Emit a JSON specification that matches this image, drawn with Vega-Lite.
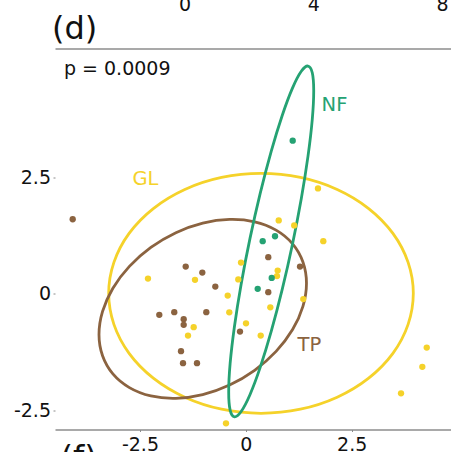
{
  "$schema": "https://vega.github.io/schema/vega-lite/v6.json",
  "width": 396,
  "height": 381,
  "autosize": {"type": "none"},
  "padding": {"left": 55, "top": 48.5, "right": 0, "bottom": 22.5},
  "background": "white",
  "config": {
    "view": {"stroke": null},
    "axis": {"grid": false, "labelFont": "DejaVu Sans", "labelFontSize": 19, "labelColor": "#111111", "title": null},
    "text": {"font": "DejaVu Sans"}
  },
  "datasets": {
    "pts": [
      {"group": "TP", "PC1": -4.088, "PC2": 1.598},
      {"group": "TP", "PC1": -1.419, "PC2": 0.584},
      {"group": "TP", "PC1": -1.027, "PC2": 0.456},
      {"group": "TP", "PC1": -0.720, "PC2": 0.156},
      {"group": "TP", "PC1": -2.043, "PC2": -0.449},
      {"group": "TP", "PC1": -1.689, "PC2": -0.392},
      {"group": "TP", "PC1": -1.467, "PC2": -0.541},
      {"group": "TP", "PC1": -1.467, "PC2": -0.663},
      {"group": "TP", "PC1": -0.933, "PC2": -0.392},
      {"group": "TP", "PC1": -0.137, "PC2": -0.807},
      {"group": "TP", "PC1": -1.530, "PC2": -1.226},
      {"group": "TP", "PC1": -1.483, "PC2": -1.483},
      {"group": "TP", "PC1": -1.153, "PC2": -1.483},
      {"group": "TP", "PC1": 0.531, "PC2": 0.785},
      {"group": "TP", "PC1": 1.280, "PC2": 0.584},
      {"group": "TP", "PC1": 0.531, "PC2": 0.036},
      {"group": "GL", "PC1": -2.310, "PC2": 0.327},
      {"group": "GL", "PC1": -1.200, "PC2": 0.300},
      {"group": "GL", "PC1": -0.113, "PC2": 0.670},
      {"group": "GL", "PC1": -0.177, "PC2": 0.310},
      {"group": "GL", "PC1": -0.427, "PC2": -0.036},
      {"group": "GL", "PC1": -0.390, "PC2": -0.396},
      {"group": "GL", "PC1": 0.005, "PC2": -0.631},
      {"group": "GL", "PC1": -1.231, "PC2": -0.712},
      {"group": "GL", "PC1": -1.365, "PC2": -0.892},
      {"group": "GL", "PC1": 1.705, "PC2": 2.257},
      {"group": "GL", "PC1": 0.777, "PC2": 1.573},
      {"group": "GL", "PC1": 1.143, "PC2": 1.466},
      {"group": "GL", "PC1": 1.830, "PC2": 1.128},
      {"group": "GL", "PC1": 0.753, "PC2": 0.499},
      {"group": "GL", "PC1": 0.737, "PC2": 0.381},
      {"group": "GL", "PC1": 1.358, "PC2": -0.111},
      {"group": "GL", "PC1": 0.579, "PC2": -0.289},
      {"group": "GL", "PC1": 0.352, "PC2": -0.892},
      {"group": "GL", "PC1": 4.273, "PC2": -1.149},
      {"group": "GL", "PC1": 4.169, "PC2": -1.562},
      {"group": "GL", "PC1": 3.666, "PC2": -2.129},
      {"group": "GL", "PC1": -0.468, "PC2": -2.771},
      {"group": "NF", "PC1": 1.108, "PC2": 3.280},
      {"group": "NF", "PC1": 0.399, "PC2": 1.128},
      {"group": "NF", "PC1": 0.690, "PC2": 1.234},
      {"group": "NF", "PC1": 0.612, "PC2": 0.342},
      {"group": "NF", "PC1": 0.281, "PC2": 0.107}
    ],
    "ell": [
      {"group": "GL", "i": 0, "PC1": 3.956, "PC2": 0.011},
      {"group": "GL", "i": 1, "PC1": 3.833, "PC2": 0.675},
      {"group": "GL", "i": 2, "PC1": 3.474, "PC2": 1.295},
      {"group": "GL", "i": 3, "PC1": 2.902, "PC2": 1.826},
      {"group": "GL", "i": 4, "PC1": 2.158, "PC2": 2.234},
      {"group": "GL", "i": 5, "PC1": 1.290, "PC2": 2.491},
      {"group": "GL", "i": 6, "PC1": 0.359, "PC2": 2.578},
      {"group": "GL", "i": 7, "PC1": -0.572, "PC2": 2.491},
      {"group": "GL", "i": 8, "PC1": -1.440, "PC2": 2.234},
      {"group": "GL", "i": 9, "PC1": -2.184, "PC2": 1.826},
      {"group": "GL", "i": 10, "PC1": -2.756, "PC2": 1.295},
      {"group": "GL", "i": 11, "PC1": -3.115, "PC2": 0.675},
      {"group": "GL", "i": 12, "PC1": -3.238, "PC2": 0.011},
      {"group": "GL", "i": 13, "PC1": -3.115, "PC2": -0.653},
      {"group": "GL", "i": 14, "PC1": -2.756, "PC2": -1.273},
      {"group": "GL", "i": 15, "PC1": -2.184, "PC2": -1.804},
      {"group": "GL", "i": 16, "PC1": -1.440, "PC2": -2.212},
      {"group": "GL", "i": 17, "PC1": -0.572, "PC2": -2.469},
      {"group": "GL", "i": 18, "PC1": 0.359, "PC2": -2.556},
      {"group": "GL", "i": 19, "PC1": 1.290, "PC2": -2.469},
      {"group": "GL", "i": 20, "PC1": 2.158, "PC2": -2.212},
      {"group": "GL", "i": 21, "PC1": 2.902, "PC2": -1.804},
      {"group": "GL", "i": 22, "PC1": 3.474, "PC2": -1.273},
      {"group": "GL", "i": 23, "PC1": 3.833, "PC2": -0.653},
      {"group": "TP", "i": 0, "PC1": 1.433, "PC2": 0.228},
      {"group": "TP", "i": 1, "PC1": 1.349, "PC2": 0.684},
      {"group": "TP", "i": 2, "PC1": 1.105, "PC2": 1.072},
      {"group": "TP", "i": 3, "PC1": 0.715, "PC2": 1.365},
      {"group": "TP", "i": 4, "PC1": 0.208, "PC2": 1.543},
      {"group": "TP", "i": 5, "PC1": -0.383, "PC2": 1.593},
      {"group": "TP", "i": 6, "PC1": -1.017, "PC2": 1.514},
      {"group": "TP", "i": 7, "PC1": -1.651, "PC2": 1.309},
      {"group": "TP", "i": 8, "PC1": -2.242, "PC2": 0.994},
      {"group": "TP", "i": 9, "PC1": -2.749, "PC2": 0.589},
      {"group": "TP", "i": 10, "PC1": -3.139, "PC2": 0.122},
      {"group": "TP", "i": 11, "PC1": -3.383, "PC2": -0.376},
      {"group": "TP", "i": 12, "PC1": -3.467, "PC2": -0.870},
      {"group": "TP", "i": 13, "PC1": -3.383, "PC2": -1.326},
      {"group": "TP", "i": 14, "PC1": -3.139, "PC2": -1.714},
      {"group": "TP", "i": 15, "PC1": -2.749, "PC2": -2.007},
      {"group": "TP", "i": 16, "PC1": -2.242, "PC2": -2.185},
      {"group": "TP", "i": 17, "PC1": -1.651, "PC2": -2.235},
      {"group": "TP", "i": 18, "PC1": -1.017, "PC2": -2.156},
      {"group": "TP", "i": 19, "PC1": -0.383, "PC2": -1.951},
      {"group": "TP", "i": 20, "PC1": 0.208, "PC2": -1.636},
      {"group": "TP", "i": 21, "PC1": 0.715, "PC2": -1.231},
      {"group": "TP", "i": 22, "PC1": 1.105, "PC2": -0.764},
      {"group": "TP", "i": 23, "PC1": 1.349, "PC2": -0.266},
      {"group": "NF", "i": 0, "PC1": 1.604, "PC2": 4.345},
      {"group": "NF", "i": 1, "PC1": 1.570, "PC2": 4.734},
      {"group": "NF", "i": 2, "PC1": 1.469, "PC2": 4.877},
      {"group": "NF", "i": 3, "PC1": 1.310, "PC2": 4.764},
      {"group": "NF", "i": 4, "PC1": 1.102, "PC2": 4.404},
      {"group": "NF", "i": 5, "PC1": 0.860, "PC2": 3.819},
      {"group": "NF", "i": 6, "PC1": 0.600, "PC2": 3.051},
      {"group": "NF", "i": 7, "PC1": 0.340, "PC2": 2.151},
      {"group": "NF", "i": 8, "PC1": 0.098, "PC2": 1.182},
      {"group": "NF", "i": 9, "PC1": -0.110, "PC2": 0.208},
      {"group": "NF", "i": 10, "PC1": -0.269, "PC2": -0.703},
      {"group": "NF", "i": 11, "PC1": -0.370, "PC2": -1.490},
      {"group": "NF", "i": 12, "PC1": -0.404, "PC2": -2.099},
      {"group": "NF", "i": 13, "PC1": -0.370, "PC2": -2.488},
      {"group": "NF", "i": 14, "PC1": -0.269, "PC2": -2.631},
      {"group": "NF", "i": 15, "PC1": -0.110, "PC2": -2.518},
      {"group": "NF", "i": 16, "PC1": 0.098, "PC2": -2.158},
      {"group": "NF", "i": 17, "PC1": 0.340, "PC2": -1.573},
      {"group": "NF", "i": 18, "PC1": 0.600, "PC2": -0.805},
      {"group": "NF", "i": 19, "PC1": 0.860, "PC2": 0.095},
      {"group": "NF", "i": 20, "PC1": 1.102, "PC2": 1.064},
      {"group": "NF", "i": 21, "PC1": 1.310, "PC2": 2.038},
      {"group": "NF", "i": 22, "PC1": 1.469, "PC2": 2.949},
      {"group": "NF", "i": 23, "PC1": 1.570, "PC2": 3.736}
    ],
    "labs": [
      {"group": "GL", "PC1": -2.369, "PC2": 2.45},
      {"group": "NF", "PC1": 2.095, "PC2": 4.045},
      {"group": "TP", "PC1": 1.500, "PC2": -1.095}
    ],
    "notes": [
      {"txt": "(d)", "size": 32, "PC1": -4.577, "PC2": 5.466},
      {"txt": "p = 0.0009", "size": 19, "PC1": -4.294, "PC2": 4.686},
      {"txt": "(f)", "size": 32, "PC1": -4.376, "PC2": -3.736}
    ],
    "topticks": [
      {"v": 0},
      {"v": 4},
      {"v": 8}
    ]
  },
  "resolve": {"scale": {"x": "independent"}},
  "layer": [
    {
      "layer": [
        {
          "mark": {"type": "rule", "color": "#bdbdbd", "strokeWidth": 1.3},
          "encoding": {"x": {"datum": 0, "type": "quantitative"}}
        },
        {
          "mark": {"type": "rule", "color": "#bdbdbd", "strokeWidth": 1.3},
          "encoding": {"y": {"datum": 0, "type": "quantitative"}}
        },
        {
          "data": {"name": "ell"},
          "mark": {"type": "line", "interpolate": "cardinal-closed", "strokeWidth": 2.8},
          "encoding": {
            "x": {"field": "PC1", "type": "quantitative"},
            "y": {"field": "PC2", "type": "quantitative"},
            "color": {"field": "group", "type": "nominal", "legend": null},
            "order": {"field": "i", "type": "quantitative"}
          }
        },
        {
          "data": {"name": "pts"},
          "mark": {"type": "circle", "size": 40, "opacity": 1},
          "encoding": {
            "x": {"field": "PC1", "type": "quantitative"},
            "y": {"field": "PC2", "type": "quantitative"},
            "color": {"field": "group", "type": "nominal", "legend": null}
          }
        },
        {
          "data": {"name": "labs"},
          "mark": {"type": "text", "fontSize": 19.5, "align": "center", "baseline": "middle"},
          "encoding": {
            "x": {"field": "PC1", "type": "quantitative"},
            "y": {"field": "PC2", "type": "quantitative"},
            "text": {"field": "group"},
            "color": {"field": "group", "type": "nominal", "legend": null}
          }
        },
        {
          "data": {"name": "notes"},
          "mark": {"type": "text", "align": "left", "baseline": "alphabetic", "color": "#111111"},
          "encoding": {
            "x": {"field": "PC1", "type": "quantitative"},
            "y": {"field": "PC2", "type": "quantitative"},
            "text": {"field": "txt"},
            "size": {"field": "size", "type": "quantitative", "scale": null}
          }
        }
      ],
      "encoding": {
        "x": {
          "type": "quantitative",
          "scale": {"domain": [-4.506, 4.846], "nice": false, "zero": false},
          "axis": {
            "values": [-2.5, 0, 2.5],
            "domainColor": "#8c8c8c",
            "domainWidth": 1.3,
            "tickColor": "#8c8c8c",
            "tickSize": 2,
            "labelPadding": 4,
            "labelExpr": "datum.value == 0 ? '0' : (datum.value < 0 ? '-' : '') + format(abs(datum.value), '.1f')"
          }
        },
        "y": {
          "type": "quantitative",
          "scale": {"domain": [-2.903, 5.252], "nice": false, "zero": false},
          "axis": {
            "values": [-2.5, 0, 2.5],
            "domain": false,
            "tickColor": "#8c8c8c",
            "tickSize": 2,
            "labelPadding": 2.5,
            "labelExpr": "datum.value == 0 ? '0' : (datum.value < 0 ? '-' : '') + format(abs(datum.value), '.1f')"
          }
        },
        "color": {
          "scale": {"domain": ["GL", "NF", "TP"], "range": ["#F5D22A", "#25A273", "#8B6340"]}
        }
      }
    },
    {
      "data": {"name": "topticks"},
      "mark": {"type": "text", "fontSize": 19, "align": "center", "baseline": "alphabetic", "color": "#111111"},
      "encoding": {
        "x": {
          "field": "v",
          "type": "quantitative",
          "scale": {"domain": [-4.039, 8.264], "nice": false, "zero": false},
          "axis": {"orient": "top", "labels": false, "ticks": false, "domain": true, "domainColor": "#8c8c8c", "domainWidth": 1.3}
        },
        "y": {"datum": 6.065, "type": "quantitative"},
        "text": {"field": "v", "type": "quantitative"}
      }
    }
  ]
}
